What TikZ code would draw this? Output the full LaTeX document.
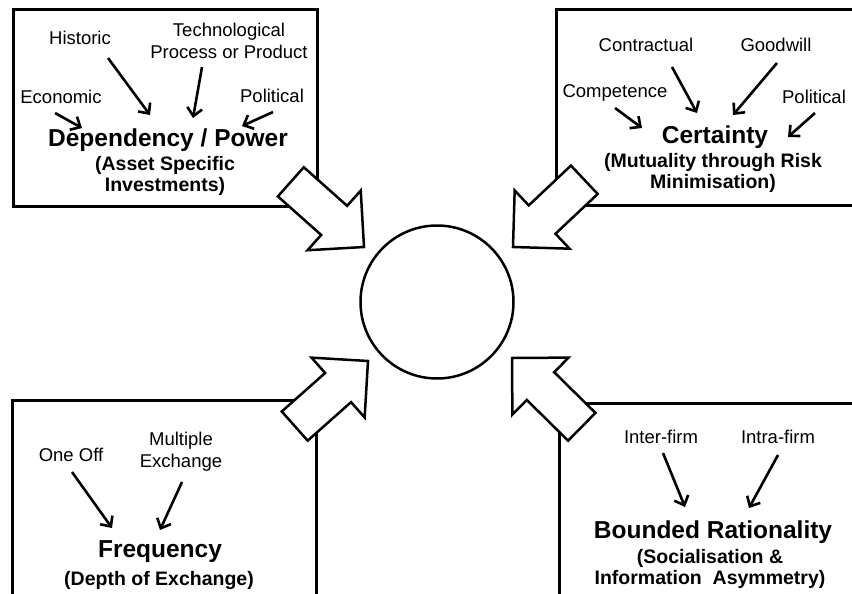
\documentclass[tikz,border=0pt]{standalone}
\usepackage{fontspec}
\setmainfont{Liberation Sans}
\usetikzlibrary{arrows.meta}

\begin{document}
\begin{tikzpicture}
  [x=1pt,y=-1pt,
   box/.style={draw,line width=3pt},
   lbl/.style={font=\fontsize{18.5}{22}\selectfont,align=center,inner sep=0pt},
   ttl/.style={font=\bfseries\fontsize{24.5}{26}\selectfont,inner sep=0pt},
   sub/.style={font=\bfseries\fontsize{19.5}{21.5}\selectfont,align=center,inner sep=0pt},
   pointer/.style={-{Straight Barb[length=8pt,width=15pt]},line width=2.6pt},
   fat/.style={draw,fill=white,line width=2.5pt,line join=miter}]
  \useasboundingbox (0,0) rectangle (852,594);
  \clip (0,0) rectangle (852,594);

  % the four boxes
  \draw[box] (13,10) rectangle (317,206);
  \draw[box] (556,10) rectangle (870,205);
  \draw[box] (12,400) rectangle (316,610);
  \draw[box] (559,403) rectangle (870,610);

  % block arrows into the middle
  \foreach \x/\y/\a in {364/247/-41.7, 513/247/223.3, 368/361/41.6, 512/358/135.4}
    \draw[fat,shift={(\x,\y)},rotate=\a] (0,0) -- (-40,-40) -- (-40,-19.5) -- (-98,-19.5)
      -- (-98,19.5) -- (-40,19.5) -- (-40,40) -- cycle;

  \node[draw,circle,line width=2.5pt,minimum size=153pt,inner sep=0pt] (hub) at (437,302) {};

  % dependency / power
  \node[lbl] (hist) at (80,38) {Historic};
  \node[lbl] (tech) at (229,41) {Technological\\Process or Product};
  \node[lbl] (econ) at (61,97) {Economic};
  \node[lbl] (pol1) at (272,96) {Political};
  \node[ttl] (dep) at (168,140) {Dependency / Power};
  \node[sub] (depsub) at (165,176) {(Asset Specific\\Investments)};

  % certainty
  \node[lbl] (contr) at (646,45) {Contractual};
  \node[lbl] (good) at (776,45) {Goodwill};
  \node[lbl] (comp) at (615,93) {Competence};
  \node[lbl] (pol2) at (814,97) {Political};
  \node[ttl] (cert) at (715,137) {Certainty};
  \node[sub] (certsub) at (713,173) {(Mutuality through Risk\\Minimisation)};

  % frequency
  \node[lbl] (once) at (71,455) {One Off};
  \node[lbl] (multi) at (181,452) {Multiple\\Exchange};
  \node[ttl] (freq) at (160,552) {Frequency};
  \node[sub] (freqsub) at (159,580) {(Depth of Exchange)};

  % bounded rationality
  \node[lbl] (inter) at (661,437) {Inter-firm};
  \node[lbl] (intra) at (778,437) {Intra-firm};
  \node[ttl] (bound) at (713,532) {Bounded Rationality};
  \node[sub] (boundsub) at (710,569) {(Socialisation \&\\Information\ \ Asymmetry)};

  \coordinate (econ-s) at (55,113);  \coordinate (econ-t) at (82,128);
  \coordinate (hist-s) at (108,58);  \coordinate (hist-t) at (150,115);
  \coordinate (tech-s) at (202,67);  \coordinate (tech-t) at (193,118);
  \coordinate (pol1-s) at (273,112); \coordinate (pol1-t) at (242,126);
  \coordinate (comp-s) at (615,108); \coordinate (comp-t) at (642,128);
  \coordinate (contr-s) at (672,67); \coordinate (contr-t) at (697,113);
  \coordinate (good-s) at (777,63);  \coordinate (good-t) at (733,115);
  \coordinate (pol2-s) at (815,113); \coordinate (pol2-t) at (788,137);
  \coordinate (once-s) at (72,472);  \coordinate (once-t) at (112,528);
  \coordinate (multi-s) at (182,482); \coordinate (multi-t) at (160,530);
  \coordinate (inter-s) at (663,453); \coordinate (inter-t) at (685,507);
  \coordinate (intra-s) at (778,455); \coordinate (intra-t) at (749,508);

  \foreach \from/\to in {econ-s/econ-t,hist-s/hist-t,tech-s/tech-t,pol1-s/pol1-t,
      comp-s/comp-t,contr-s/contr-t,good-s/good-t,pol2-s/pol2-t,
      once-s/once-t,multi-s/multi-t,inter-s/inter-t,intra-s/intra-t}
    \draw[pointer] (\from) -- (\to);

\end{tikzpicture}
\end{document}
